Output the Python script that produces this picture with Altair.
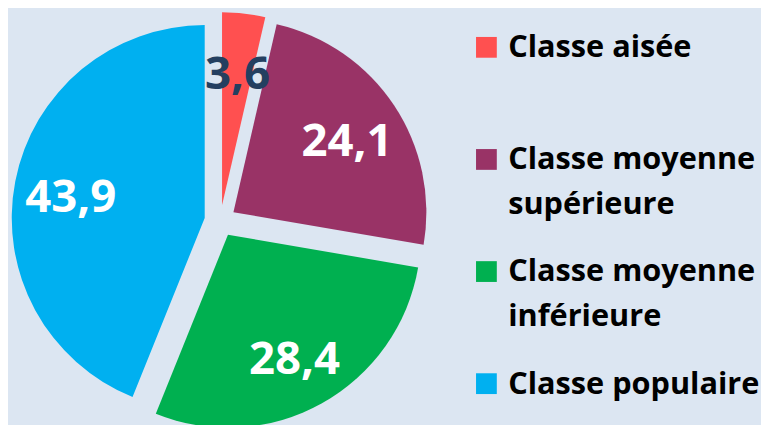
import altair as alt
import pandas as pd

categories = ["Classe aisée", "Classe moyenne supérieure", "Classe moyenne inférieure", "Classe populaire"]
legend_text = ["Classe aisée", "Classe moyenne\nsupérieure", "Classe moyenne\ninférieure", "Classe populaire"]
values = [3.6, 24.1, 28.4, 43.9]
value_labels = ["3,6", "24,1", "28,4", "43,9"]
colors = ["#FF5050", "#993366", "#00B050", "#00B0F0"]

df = pd.DataFrame({
    "idx": list(range(len(categories))),
    "cat": categories,
    "legend": legend_text,
    "value": values,
    "label": value_labels,
})

# layout constants (pixels)
CX, CY, R, D, LR = 214.5, 213, 195, 16, 138
LEG_X, LEG_Y0, LEG_STEP = 483.5, 37.5, 113.3
FONT = "Open Sans"

base = alt.Chart(df).transform_window(
    cum="sum(value)", sort=[alt.SortField("idx")], frame=[None, 0]
).transform_joinaggregate(
    total="sum(value)"
).transform_calculate(
    t0="(datum.cum - datum.value) / datum.total * 2 * PI",
    t1="datum.cum / datum.total * 2 * PI",
).transform_calculate(
    mid="(datum.t0 + datum.t1) / 2"
).transform_calculate(
    cx=f"{CX} + {D} * sin(datum.mid)",
    cy=f"{CY} - {D} * cos(datum.mid)",
    lx=f"{CX} + {D + LR} * sin(datum.mid)",
    ly=f"{CY} - {D + LR} * cos(datum.mid)",
    legy=f"{LEG_Y0} + datum.idx * {LEG_STEP}",
)

color_scale = alt.Scale(domain=categories, range=colors)

arcs = base.mark_arc(outerRadius=R, stroke=None).encode(
    x=alt.X("cx:Q", scale=None, axis=None),
    y=alt.Y("cy:Q", scale=None, axis=None),
    theta=alt.Theta("t0:Q", scale=None, stack=None),
    theta2="t1:Q",
    color=alt.Color("cat:N", scale=color_scale, legend=None),
)

labels = base.mark_text(
    font=FONT, fontSize=46, fontWeight="bold", align="center", baseline="middle", dy=6
).encode(
    x=alt.X("lx:Q", scale=None, axis=None),
    y=alt.Y("ly:Q", scale=None, axis=None),
    text="label:N",
    color=alt.condition(alt.datum.idx == 0, alt.value("#243F60"), alt.value("white")),
)

leg_sym = base.mark_square(size=441, opacity=1, filled=True, stroke=None).encode(
    x=alt.value(LEG_X),
    y=alt.Y("legy:Q", scale=None, axis=None),
    color=alt.Color("cat:N", scale=color_scale, legend=None),
)

leg_txt = base.mark_text(
    font=FONT, fontSize=31, fontWeight="bold", align="left", baseline="alphabetic",
    dy=10, lineBreak="\n", lineHeight=45, color="black",
).encode(
    x=alt.value(LEG_X + 22),
    y=alt.Y("legy:Q", scale=None, axis=None),
    text="legend:N",
)

chart = alt.layer(arcs, labels, leg_sym, leg_txt).properties(
    width=761, height=425, padding=0, background="#DCE6F2",
    autosize=alt.AutoSizeParams(type="none"),
).configure_view(stroke=None)

chart.save("out.html", embed_options={"renderer": "svg", "actions": False})
